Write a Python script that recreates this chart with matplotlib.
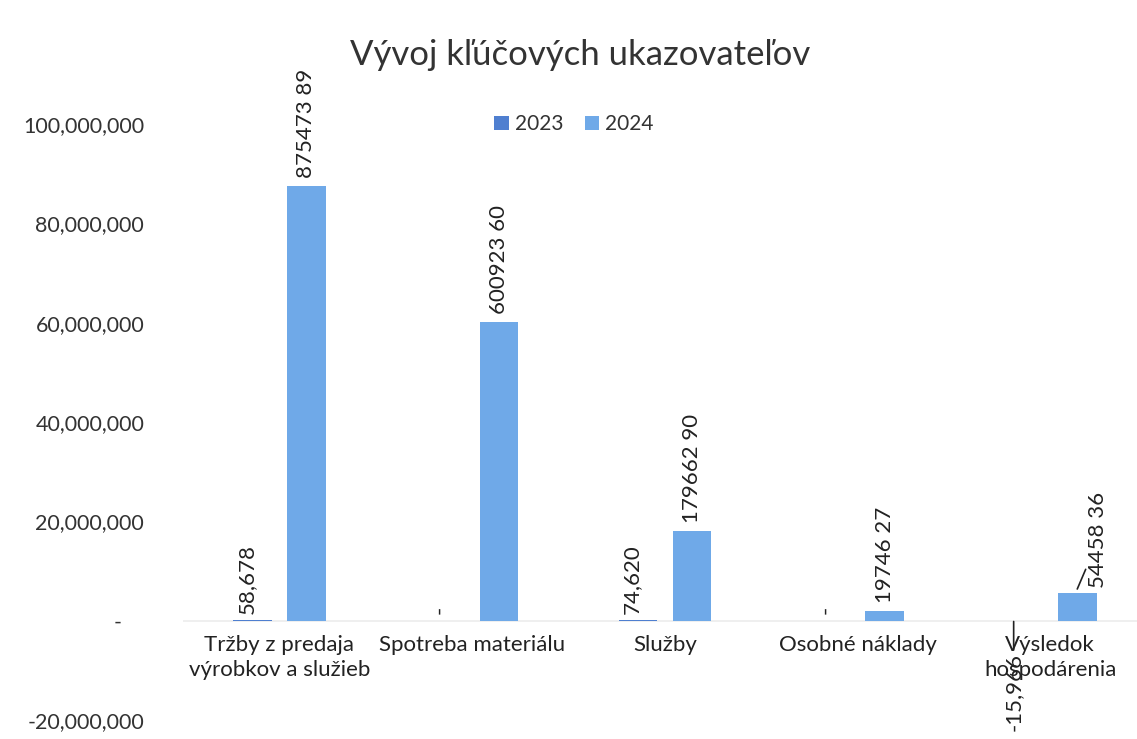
import numpy as np
import matplotlib.pyplot as plt
from matplotlib.ticker import FuncFormatter

categories = ["Tržby z predaja\nvýrobkov a služieb", "Spotreba materiálu", "Služby",
              "Osobné náklady", "Výsledok\nhospodárenia"]
years = ["2023", "2024"]
values_2023 = [58678, 0, 74620, 0, -15966]
values_2024 = [87547389, 60092360, 17966290, 1974627, 5445836]
labels_2023 = ["58,678", "-", "74,620", "-", "-15,966"]
labels_2024 = ["875473 89", "600923 60", "179662 90", "19746 27", "54458 36"]
yticks = [-20000000, 0, 20000000, 40000000, 60000000, 80000000, 100000000]

c2023 = "#4F7FD0"
c2024 = "#6FA9E8"


def fmt(v, pos):
    if v == 0:
        return "-    "
    return f"{v:,.0f}"


def main():
    plt.rcParams['font.family'] = ['Lato', 'DejaVu Sans']
    fig = plt.figure(figsize=(11.37, 7.39), dpi=100)
    ax = fig.add_axes([0.161, 0.026, 0.839, 0.806])

    x = np.arange(len(categories))
    w = 0.2
    off = 0.14
    ax.bar(x - off, values_2023, w, color=c2023, label=years[0])
    ax.bar(x + off, values_2024, w, color=c2024, label=years[1])

    ax.set_xlim(-0.5, 4.45)
    ax.set_ylim(-20000000, 100000000)
    ax.set_yticks(yticks)
    ax.yaxis.set_major_formatter(FuncFormatter(fmt))
    ax.tick_params(axis='y', length=0, pad=28, labelsize=15.5, labelcolor='#333333')
    ax.set_xticks([])
    for s in ax.spines.values():
        s.set_visible(False)
    ax.axhline(0, color='#ececec', lw=1.2, zorder=0)

    # category labels under the zero line
    for i, c in enumerate(categories):
        ax.text(i, -3000000, c, ha='center', va='top', fontsize=16, color='#222222',
                linespacing=1.3)

    # data labels, rotated like the Excel original
    for i in range(len(categories)):
        if i == 4:
            continue
        ax.text(i - off - 0.03, max(values_2023[i], 0) + 1300000, labels_2023[i],
                rotation=90, ha='center', va='bottom', fontsize=16, color='#222222')
        ax.text(i + off, values_2024[i] + 1600000, labels_2024[i], rotation=90,
                ha='center', va='bottom', fontsize=16, color='#222222', clip_on=False)

    # Výsledok hospodárenia labels with leader lines
    ax.annotate(labels_2023[4], xy=(4 - off - 0.05, -200000),
                xytext=(4 - off - 0.05, -6500000), rotation=90, ha='center', va='top',
                fontsize=16, color='#222222', annotation_clip=False,
                arrowprops=dict(arrowstyle='-', color='#222222', lw=1.2,
                                shrinkA=0, shrinkB=0))
    ax.annotate(labels_2024[4], xy=(4 + off, values_2024[4] + 900000),
                xytext=(4 + off + 0.11, values_2024[4] + 1200000), rotation=90,
                ha='center', va='bottom', fontsize=16, color='#222222',
                annotation_clip=False,
                arrowprops=dict(arrowstyle='-', color='#222222', lw=1.2,
                                shrinkA=0, shrinkB=0))

    fig.text(0.51, 0.925, "Vývoj kľúčových ukazovateľov", ha='center', va='center',
             fontsize=25, color='#333333')
    ax.legend(loc='center', bbox_to_anchor=(0.41, 1.0), ncol=2, frameon=False,
              fontsize=15, handlelength=0.7, handleheight=0.7, columnspacing=1.0,
              handletextpad=0.3, labelcolor='#333333')

    fig.savefig('out.png', dpi=100)


if __name__ == '__main__':
    main()
